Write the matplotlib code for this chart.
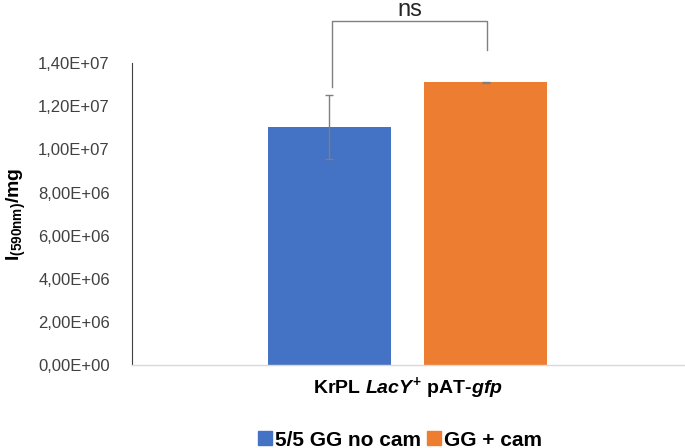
import numpy as np
import matplotlib
matplotlib.use('Agg')
from matplotlib import pyplot as plt
from matplotlib.lines import Line2D

plt.rcParams['font.family'] = ['Liberation Sans', 'DejaVu Sans']
plt.rcParams['mathtext.fontset'] = 'custom'
plt.rcParams['mathtext.rm'] = 'Liberation Sans:bold'
plt.rcParams['mathtext.bf'] = 'Liberation Sans:bold'
plt.rcParams['mathtext.it'] = 'Liberation Sans:bold:italic'

# data
category = r'KrPL $\mathit{LacY}^{\mathrm{+}}$ pAT-$\mathit{gfp}$'
series = ['5/5 GG no cam', 'GG + cam']
means = [1.105e7, 1.312e7]
errors = [1.48e6, 0.02e6]
colors = ['#4472C4', '#ED7D31']
yticks = [0, 2e6, 4e6, 6e6, 8e6, 1e7, 1.2e7, 1.4e7]
ytick_labels = ['0,00E+00', '2,00E+06', '4,00E+06', '6,00E+06', '8,00E+06',
                '1,00E+07', '1,20E+07', '1,40E+07']
sig_label = 'ns'

fig = plt.figure(figsize=(6.85, 4.48), dpi=100)
ax = fig.add_axes([0.1927, 0.185, 0.806, 0.674])

offsets = [-0.143, 0.141]
width = 0.223
for off, m, e, c in zip(offsets, means, errors, colors):
    ax.bar(off, m, width=width, color=c, zorder=2)
    ax.errorbar(off, m, yerr=e, fmt='none', ecolor='#7f7f7f', elinewidth=1,
                capsize=3, capthick=1, zorder=3)

ax.set_xlim(-0.5, 0.5)
ax.set_ylim(0, 1.4e7)
ax.set_yticks(yticks)
ax.set_yticklabels(ytick_labels)
ax.set_xticks([])
ax.tick_params(axis='y', length=0, pad=16, labelsize=12, labelcolor='#404040')

for s in ['top', 'right']:
    ax.spines[s].set_visible(False)
ax.spines['left'].set_color('#404040')
ax.spines['left'].set_linewidth(0.8)
ax.spines['bottom'].set_color('#d9d9d9')
ax.spines['bottom'].set_linewidth(1.0)

# significance bracket
top_y = 1.595e7
left_x = offsets[0] + 0.005
right_x = offsets[1] + 0.002
ax.plot([left_x, left_x, right_x, right_x],
        [means[0] + errors[0] + 0.37e6, top_y, top_y, means[1] + 1.5e6],
        color='#808080', linewidth=1, clip_on=False)
ax.text((left_x + right_x) / 2, top_y + 0.23e6, sig_label, ha='center', va='baseline',
        fontsize=17, color='#262626')

ax.set_xlabel(category, fontsize=14, fontweight='bold', labelpad=7)
ax.set_ylabel(r'I$_{\mathrm{(590nm)}}$/mg', fontsize=14, fontweight='bold', labelpad=7)

handles = [Line2D([], [], marker='s', linestyle='none', markersize=9.5,
                  markerfacecolor=c, markeredgecolor=c) for c in colors]
fig.legend(handles, series, loc='center', bbox_to_anchor=(400 / 685, 1 - 440 / 448), ncol=2,
           frameon=False, prop={'weight': 'bold', 'size': 15}, borderpad=0,
           handletextpad=0.1, columnspacing=0.3, handlelength=0.7)

fig.savefig('out.png', dpi=100)
